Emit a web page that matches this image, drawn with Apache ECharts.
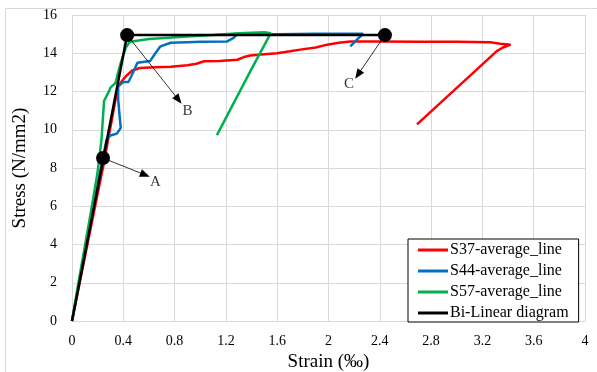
<!DOCTYPE html>
<html>
<head>
<meta charset="utf-8">
<script src="https://cdn.jsdelivr.net/npm/echarts@6/dist/echarts.min.js"></script>
<style>
  html, body { margin: 0; padding: 0; background: #fff; }
  #chart { width: 597px; height: 372px; }
</style>
</head>
<body>
<div id="chart"></div>
<script>
// strain (per mille), stress (N/mm2) pairs
const s37 = [
  [0, 0], [0.06, 2], [0.12, 4], [0.18, 6], [0.25, 8.3], [0.29, 9.8], [0.31, 10.5],
  [0.34, 11.6], [0.36, 12.3], [0.42, 12.8], [0.47, 13.1], [0.53, 13.23], [0.65, 13.27],
  [0.77, 13.3], [0.9, 13.37], [0.97, 13.45], [1.03, 13.58], [1.15, 13.6], [1.29, 13.66],
  [1.34, 13.8], [1.39, 13.88], [1.5, 13.95], [1.6, 14.0], [1.7, 14.1], [1.78, 14.19],
  [1.9, 14.3], [1.99, 14.45], [2.08, 14.55], [2.17, 14.62], [2.4, 14.62], [2.69, 14.6],
  [3.0, 14.6], [3.26, 14.57], [3.34, 14.5], [3.42, 14.45], [3.36, 14.3], [3.31, 14.1],
  [2.69, 10.28]
];
const s44 = [
  [0, 0], [0.07, 2.5], [0.14, 5], [0.21, 7.5], [0.27, 9.5], [0.3, 9.7], [0.35, 9.8],
  [0.38, 10.1], [0.37, 10.8], [0.36, 11.6], [0.36, 12.27], [0.4, 12.5], [0.44, 12.5],
  [0.47, 12.9], [0.51, 13.5], [0.61, 13.6], [0.65, 14.0], [0.69, 14.36], [0.77, 14.55],
  [0.9, 14.58], [1.0, 14.6], [1.21, 14.62], [1.26, 14.8], [1.29, 15.0], [1.6, 15.0],
  [1.9, 15.02], [2.1, 15.02], [2.27, 15.02], [2.22, 14.7], [2.17, 14.36]
];
const s57 = [
  [0, 0], [0.05, 2], [0.1, 3.9], [0.15, 5.8], [0.2, 7.8], [0.23, 9.5], [0.24, 10.5],
  [0.25, 11.5], [0.28, 11.9], [0.3, 12.2], [0.34, 12.45], [0.36, 13.0], [0.38, 13.5],
  [0.42, 14.3], [0.45, 14.6], [0.6, 14.75], [0.9, 14.88], [1.1, 14.95], [1.3, 15.05],
  [1.5, 15.1], [1.55, 15.05], [1.39, 13.05], [1.13, 9.72]
];
const biLinear = [[0, 0], [0.43, 14.95], [2.44, 14.95]];

const pointNames = ['A', 'B', 'C'];
const pointX = [0.242, 0.43, 2.44];
const pointY = [8.52, 14.95, 14.95];
const arrowTipX = [0.57, 0.83, 2.23];
const arrowTipY = [7.64, 11.57, 12.88];
const labelX = [0.65, 0.9, 2.16];
const labelY = [7.25, 11.0, 12.4];

const serif = '"Liberation Serif", "DejaVu Serif", serif';
const gridColor = '#d9d9d9';

const chart = echarts.init(document.getElementById('chart'));

const lineSeries = (name, data, color, width) => ({
  name, type: 'line', data, showSymbol: false, symbol: 'none',
  lineStyle: { color, width }, itemStyle: { color },
  animation: false, silent: true, z: 2
});

chart.setOption({
  backgroundColor: '#fff',
  animation: false,
  graphic: [{
    type: 'rect', left: 3, top: 6,
    shape: { width: 593, height: 364 },
    style: { fill: 'none', stroke: gridColor, lineWidth: 1 },
    silent: true, z: -1
  }],
  grid: { left: 72, right: 12, top: 15, bottom: 51, containLabel: false, outerBoundsMode: 'none' },
  xAxis: {
    type: 'value', min: 0, max: 4, interval: 0.4,
    name: 'Strain (\u2030)', nameLocation: 'middle', nameGap: 31,
    nameTextStyle: { fontFamily: serif, fontSize: 19, color: '#000' },
    axisLine: { show: true, lineStyle: { color: gridColor } },
    axisTick: { show: false },
    axisLabel: {
      fontFamily: serif, fontSize: 14, color: '#000', margin: 13,
      formatter: v => String(+v.toFixed(1))
    },
    splitLine: { show: true, lineStyle: { color: gridColor, width: 1 } }
  },
  yAxis: {
    type: 'value', min: 0, max: 16, interval: 2,
    name: 'Stress (N/mm2)', nameLocation: 'middle', nameGap: 42,
    nameTextStyle: { fontFamily: serif, fontSize: 19, color: '#000' },
    axisLine: { show: true, lineStyle: { color: gridColor } },
    axisTick: { show: false },
    axisLabel: { fontFamily: serif, fontSize: 14, color: '#000', margin: 15 },
    splitLine: { show: true, lineStyle: { color: gridColor, width: 1 } }
  },
  legend: {
    orient: 'vertical', left: 408, top: 239,
    data: ['S37-average_line', 'S44-average_line', 'S57-average_line', 'Bi-Linear diagram'],
    icon: 'rect', itemWidth: 30, itemHeight: 3, itemGap: 5,
    padding: [3, 10, 1, 10],
    borderColor: '#000', borderWidth: 1, backgroundColor: '#fff',
    textStyle: { fontFamily: serif, fontSize: 16, color: '#000', lineHeight: 16, padding: [0, 0, 0, -3] }
  },
  series: [
    lineSeries('S37-average_line', s37, '#ff0000', 2.5),
    lineSeries('S44-average_line', s44, '#0070c0', 2.5),
    lineSeries('S57-average_line', s57, '#00b050', 2.5),
    Object.assign(lineSeries('Bi-Linear diagram', biLinear, '#000000', 2.5), { z: 3 }),
    {
      type: 'scatter', silent: true, z: 5,
      symbol: 'circle', symbolSize: 14,
      itemStyle: { color: '#000', opacity: 1 },
      data: pointX.map((x, i) => [x, pointY[i]]),
      markLine: {
        silent: true, symbol: ['none', 'triangle'], symbolSize: [8, 10],
        label: { show: false },
        lineStyle: { color: '#000', width: 0.8, type: 'solid' },
        data: pointX.map((x, i) => [
          { coord: [x, pointY[i]] },
          { coord: [arrowTipX[i], arrowTipY[i]] }
        ])
      }
    },
    {
      type: 'scatter', silent: true, z: 5,
      symbolSize: 0,
      data: pointNames.map((n, i) => ({ name: n, value: [labelX[i], labelY[i]] })),
      label: {
        show: true, position: 'inside', formatter: '{b}',
        fontFamily: serif, fontSize: 15, color: '#000'
      }
    }
  ]
});
</script>
</body>
</html>
